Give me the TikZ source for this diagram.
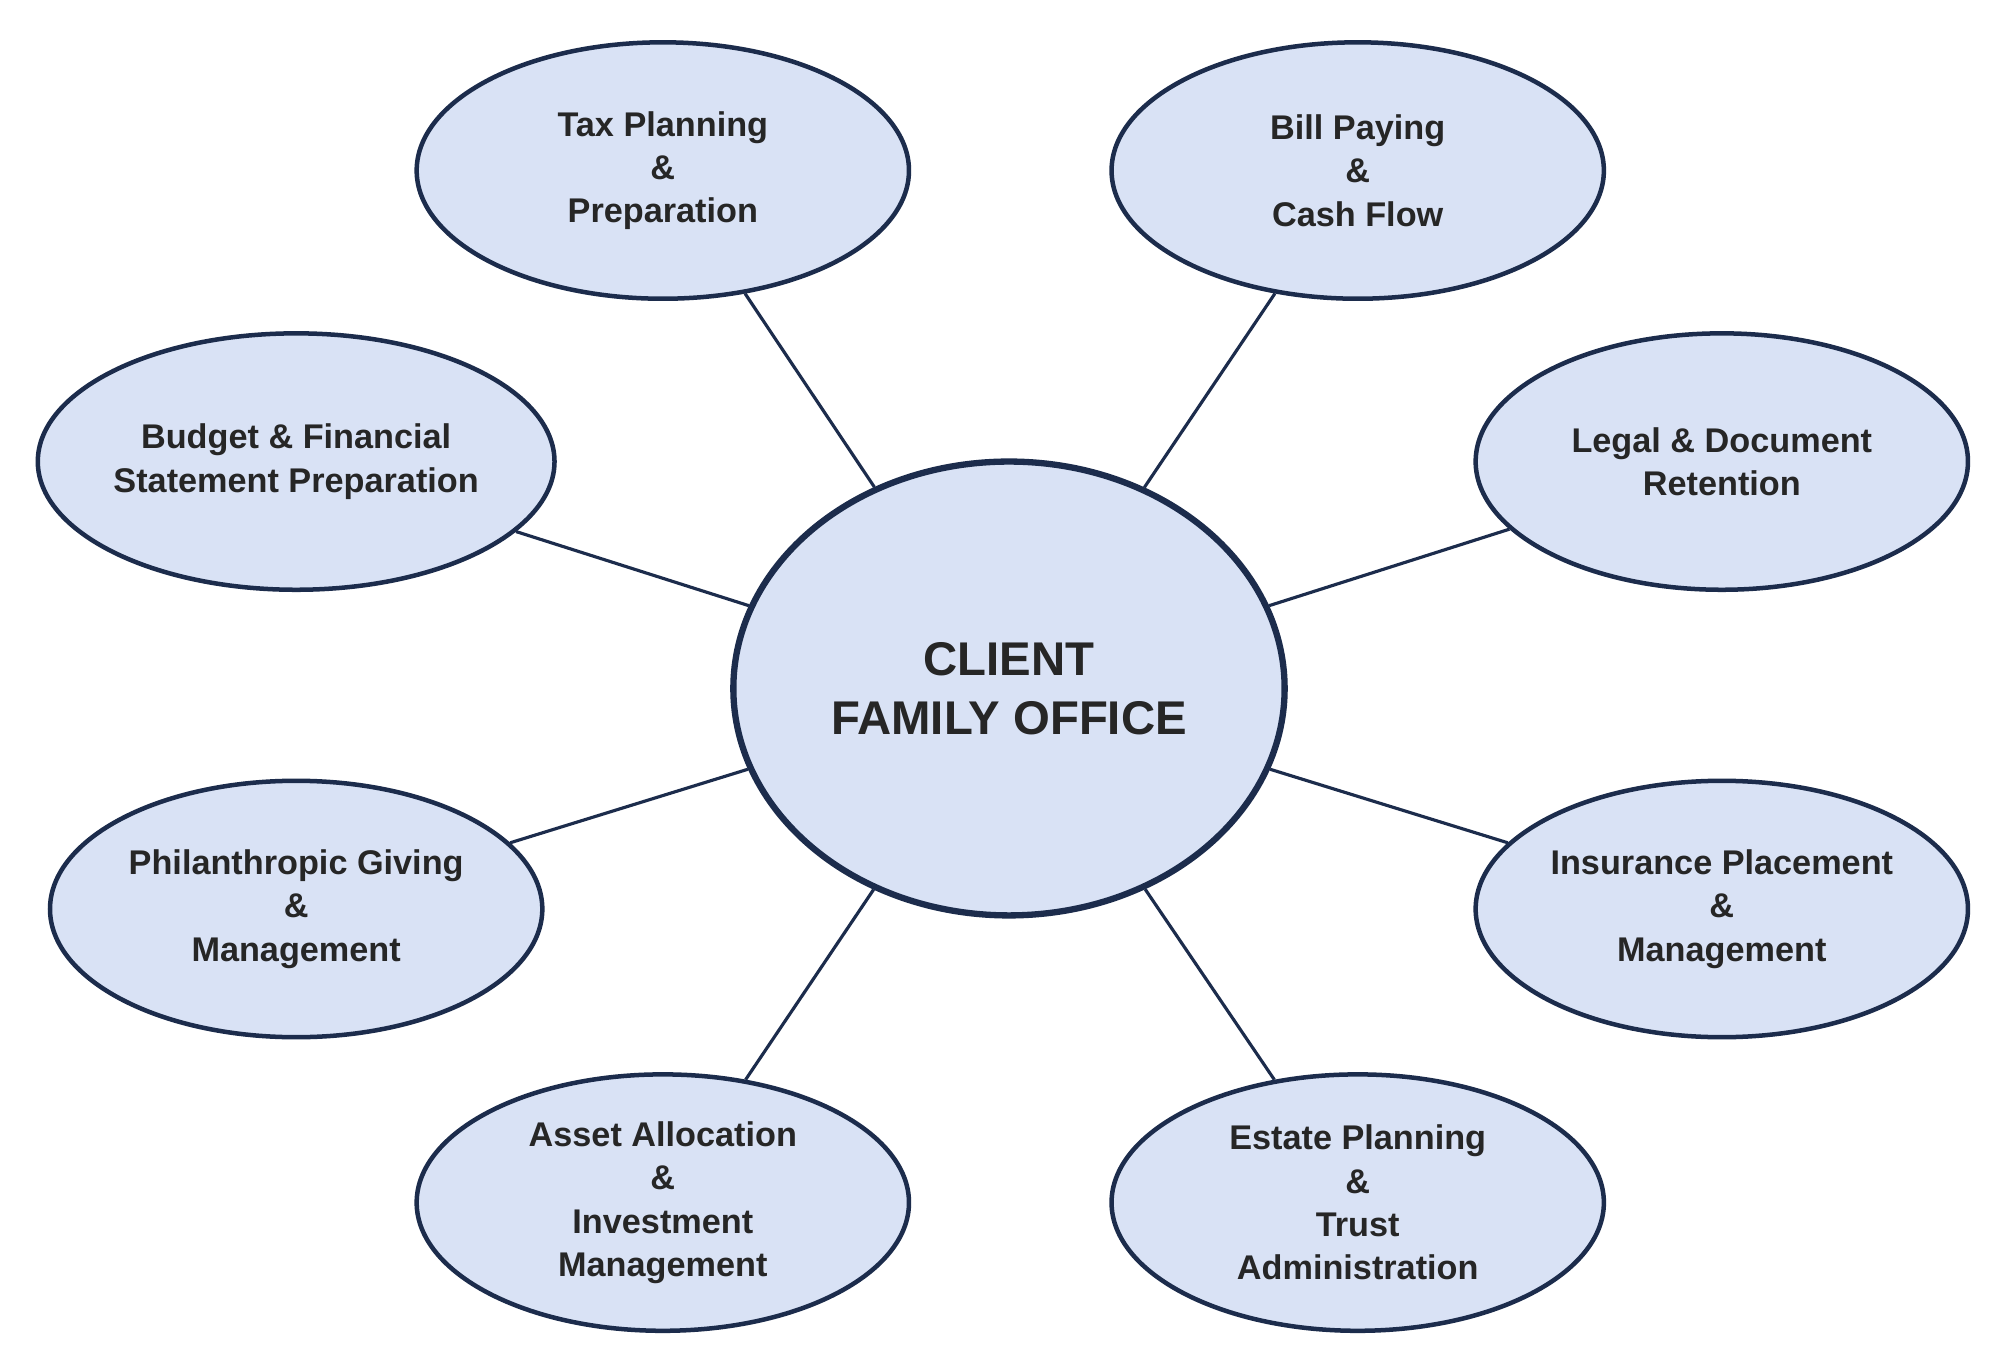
\documentclass[tikz,border=0pt]{standalone}
\usepackage{fontspec}
\setmainfont{Liberation Sans}
\usetikzlibrary{shapes.geometric,positioning}
\definecolor{navy}{HTML}{1C2C4C}
\definecolor{paleblue}{HTML}{D9E2F5}
\tikzstyle{service}=[ellipse, draw=navy, line width=1pt, fill=paleblue, inner sep=0pt,
        minimum width=3.84cm, minimum height=2cm, align=center,
        font=\fontsize{7.6}{9.6}\selectfont\bfseries, text=black!85]
\tikzstyle{hub}=[ellipse, draw=navy, line width=1.4pt, fill=paleblue, inner sep=0pt,
        minimum width=4.3cm, minimum height=3.54cm, align=center,
        font=\fontsize{10.5}{13}\selectfont\bfseries, text=black!85]
\tikzstyle{spoke}=[draw=navy, line width=0.7pt]

\begin{document}
\begin{tikzpicture}[x=1cm, y=-1cm]
    \useasboundingbox[fill=white] (0,0) rectangle (15.6,10.56);

    \node (Office) [hub] at (7.87,5.37) {CLIENT\\FAMILY OFFICE};

    \node (Tax) [service] at (5.17,1.33) {Tax Planning\\\&\\Preparation};
    \node (Bill) [service] at (10.59,1.33) {Bill Paying\\\&\\Cash Flow};
    \node (Budget) [service] at (2.31,3.60) {Budget \& Financial\\Statement Preparation};
    \node (Legal) [service] at (13.43,3.60) {Legal \& Document\\Retention};
    \node (Philanthropy) [service] at (2.31,7.09) {Philanthropic Giving\\\&\\Management};
    \node (Insurance) [service] at (13.43,7.09) {Insurance Placement\\\&\\Management};
    \node (Asset) [service] at (5.17,9.38) {Asset Allocation\\\&\\Investment\\Management};
    \node (Estate) [service] at (10.59,9.38) {Estate Planning\\\&\\Trust\\Administration};

    \foreach \n in {Tax,Bill,Budget,Legal,Philanthropy,Insurance,Asset,Estate}
        \draw[spoke] (\n) -- (Office);

\end{tikzpicture}
\end{document}
